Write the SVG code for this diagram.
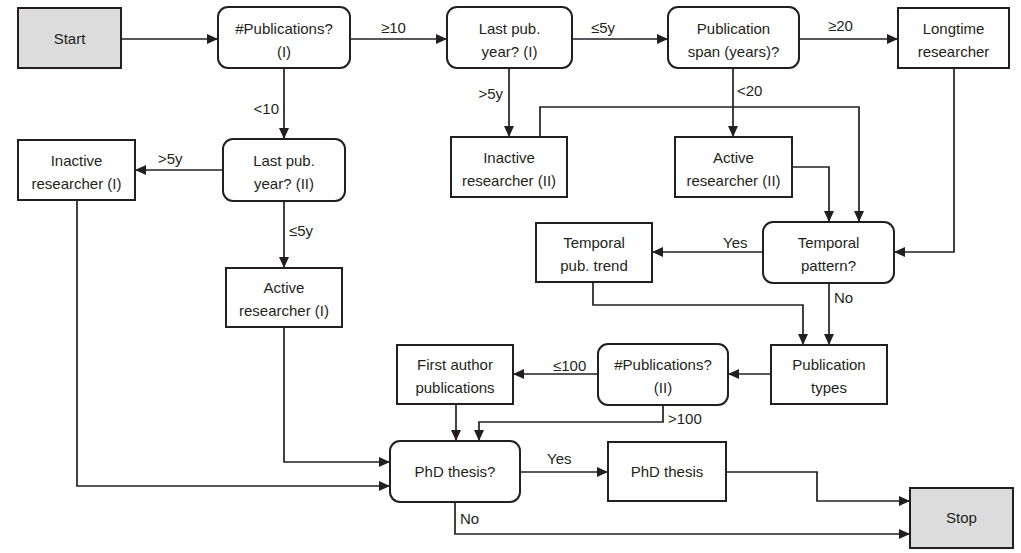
<svg xmlns="http://www.w3.org/2000/svg" width="1021" height="553" viewBox="0 0 1021 553">
<defs>
<marker id="ah" markerUnits="userSpaceOnUse" markerWidth="11" markerHeight="10" refX="11" refY="5" orient="auto">
<path d="M0,0 L11,5 L0,10 z" fill="#231f20"/>
</marker>
<style>
.box{fill:#fff;stroke:#231f20;stroke-width:2}
.term{fill:#dcdcdc;stroke:#231f20;stroke-width:2}
.t{font-family:"Liberation Sans",Arial,sans-serif;font-size:15px;fill:#231f20;text-anchor:middle}
.l{font-family:"Liberation Sans",Arial,sans-serif;font-size:15px;fill:#231f20}
.c{fill:none;stroke:#231f20;stroke-width:1.7;marker-end:url(#ah)}
</style>
</defs>
<rect width="1021" height="553" fill="#fff"/>
<g id="connectors">
<path class="c" d="M121,39 H218"/>
<path class="c" d="M350,39 H447"/>
<path class="c" d="M572,39 H668"/>
<path class="c" d="M799,39 H898"/>
<path class="c" d="M284,68 V139"/>
<path class="c" d="M223,170 H135"/>
<path class="c" d="M284,201 V268"/>
<path class="c" d="M509,68 V137"/>
<path class="c" d="M733,68 V137"/>
<path class="c" d="M540,137 V107 H859 V222"/>
<path class="c" d="M792,167 H829 V222"/>
<path class="c" d="M954,68 V252 H894"/>
<path class="c" d="M763,252 H652"/>
<path class="c" d="M829,283 V345"/>
<path class="c" d="M593,282 V305 H803 V345"/>
<path class="c" d="M771,374 H728"/>
<path class="c" d="M598,374 H513"/>
<path class="c" d="M663,405 V422 H479 V441"/>
<path class="c" d="M456,404 V441"/>
<path class="c" d="M284,327 V462 H390"/>
<path class="c" d="M77,200 V486 H390"/>
<path class="c" d="M520,472 H608"/>
<path class="c" d="M726,472 H817 V501 H910"/>
<path class="c" d="M455,502 V534 H910"/>
<text class="l" x="381" y="33">≥10</text>
<text class="l" x="591" y="33">≤5y</text>
<text class="l" x="828" y="31">≥20</text>
<text class="l" x="279" y="114" text-anchor="end">&lt;10</text>
<text class="l" x="158" y="164">&gt;5y</text>
<text class="l" x="289" y="236">≤5y</text>
<text class="l" x="503" y="99" text-anchor="end">&gt;5y</text>
<text class="l" x="737" y="96">&lt;20</text>
<text class="l" x="723" y="248">Yes</text>
<text class="l" x="834" y="303">No</text>
<text class="l" x="553" y="371">≤100</text>
<text class="l" x="668" y="424">&gt;100</text>
<text class="l" x="547" y="464">Yes</text>
<text class="l" x="460" y="524">No</text>
</g>
<g id="start"><rect class="term" x="18" y="8" width="103" height="60"/><text class="t" x="69.5" y="44">Start</text></g>
<g id="pub1"><rect class="box" x="218" y="7" width="132" height="61" rx="10"/><text class="t" x="284" y="34">#Publications?</text><text class="t" x="284" y="57">(I)</text></g>
<g id="last1"><rect class="box" x="447" y="7" width="125" height="61" rx="10"/><text class="t" x="509.5" y="34">Last pub.</text><text class="t" x="509.5" y="57">year? (I)</text></g>
<g id="span"><rect class="box" x="668" y="7" width="131" height="61" rx="10"/><text class="t" x="733.5" y="34">Publication</text><text class="t" x="733.5" y="57">span (years)?</text></g>
<g id="longtime"><rect class="box" x="898" y="8" width="111" height="60"/><text class="t" x="953.5" y="34">Longtime</text><text class="t" x="953.5" y="57">researcher</text></g>
<g id="inact1"><rect class="box" x="18" y="140" width="117" height="60"/><text class="t" x="76.5" y="166">Inactive</text><text class="t" x="76.5" y="189">researcher (I)</text></g>
<g id="last2"><rect class="box" x="223" y="139" width="122" height="62" rx="10"/><text class="t" x="284" y="166">Last pub.</text><text class="t" x="284" y="189">year? (II)</text></g>
<g id="inact2"><rect class="box" x="451" y="137" width="116" height="60"/><text class="t" x="509" y="163">Inactive</text><text class="t" x="509" y="186">researcher (II)</text></g>
<g id="active2"><rect class="box" x="675" y="137" width="117" height="60"/><text class="t" x="733.5" y="163">Active</text><text class="t" x="733.5" y="186">researcher (II)</text></g>
<g id="temporal"><rect class="box" x="763" y="222" width="131" height="61" rx="10"/><text class="t" x="828.5" y="248">Temporal</text><text class="t" x="828.5" y="271">pattern?</text></g>
<g id="trend"><rect class="box" x="536" y="223" width="116" height="59"/><text class="t" x="594" y="248">Temporal</text><text class="t" x="594" y="271">pub. trend</text></g>
<g id="active1"><rect class="box" x="226" y="268" width="116" height="59"/><text class="t" x="284" y="293">Active</text><text class="t" x="284" y="316">researcher (I)</text></g>
<g id="first"><rect class="box" x="397" y="345" width="116" height="59"/><text class="t" x="455" y="370">First author</text><text class="t" x="455" y="393">publications</text></g>
<g id="pub2"><rect class="box" x="598" y="344" width="130" height="61" rx="10"/><text class="t" x="663" y="370">#Publications?</text><text class="t" x="663" y="393">(II)</text></g>
<g id="types"><rect class="box" x="771" y="345" width="116" height="59"/><text class="t" x="829" y="370">Publication</text><text class="t" x="829" y="393">types</text></g>
<g id="phdq"><rect class="box" x="390" y="441" width="130" height="61" rx="10"/><text class="t" x="455" y="477">PhD thesis?</text></g>
<g id="phd"><rect class="box" x="608" y="442" width="118" height="59"/><text class="t" x="667" y="477">PhD thesis</text></g>
<g id="stop"><rect class="term" x="910" y="488" width="103" height="60"/><text class="t" x="961.5" y="523">Stop</text></g>
</svg>
